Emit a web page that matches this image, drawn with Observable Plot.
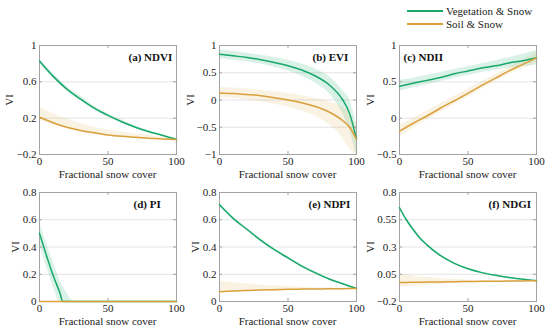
<!DOCTYPE html>
<html>
<head>
<meta charset="utf-8">
<script src="https://cdn.jsdelivr.net/npm/d3@7"></script>
<script src="https://cdn.jsdelivr.net/npm/@observablehq/plot@0.6"></script>
<style>
  html, body { margin: 0; padding: 0; background: #fff; overflow: hidden; }
  #chart { position: relative; width: 550px; height: 333px; font-family: "Liberation Serif", "Times New Roman", serif; color: #222; }
  #chart svg { position: absolute; overflow: visible; }
  .lab { position: absolute; font-size: 11px; white-space: nowrap; line-height: 1; }
  .ylab { position: absolute; font-size: 11px; line-height: 1; white-space: nowrap; transform: translate(-50%, -50%) rotate(-90deg); }
</style>
</head>
<body>
<div id="chart"></div>
<script>
// ---------- data ----------
const seriesNames = ["Vegetation & Snow", "Soil & Snow"];
const xTicks = [0, 50, 100];

const snow11 = [0, 10, 20, 30, 40, 50, 60, 70, 80, 90, 100];

// (a) NDVI
const ndviVeg    = [0.83, 0.66, 0.52, 0.41, 0.31, 0.23, 0.16, 0.10, 0.05, 0.01, -0.035];
const ndviVegLo  = [0.80, 0.64, 0.50, 0.39, 0.29, 0.21, 0.145, 0.085, 0.04, 0.0, -0.045];
const ndviVegHi  = [0.85, 0.69, 0.55, 0.44, 0.33, 0.25, 0.18, 0.115, 0.065, 0.02, -0.025];
const ndviSoil   = [0.21, 0.15, 0.10, 0.065, 0.04, 0.015, 0.0, -0.01, -0.02, -0.03, -0.035];
const ndviSoilLo = [0.18, 0.125, 0.08, 0.045, 0.02, 0.0, -0.012, -0.02, -0.03, -0.038, -0.045];
const ndviSoilHi = [0.32, 0.25, 0.19, 0.14, 0.10, 0.07, 0.045, 0.025, 0.01, -0.01, -0.025];
const ndviTicks  = [-0.2, 0.2, 0.6, 1];

// (b) EVI
const snowEvi   = [0, 10, 20, 30, 40, 50, 60, 70, 80, 90, 95, 100];
const eviVeg    = [0.84, 0.81, 0.78, 0.74, 0.69, 0.63, 0.55, 0.44, 0.28, 0.0, -0.25, -0.72];
const eviVegLo  = [0.76, 0.73, 0.70, 0.66, 0.60, 0.53, 0.44, 0.31, 0.12, -0.25, -0.55, -1];
const eviVegHi  = [0.92, 0.89, 0.86, 0.82, 0.78, 0.73, 0.66, 0.57, 0.43, 0.17, 0.0, -0.45];
const eviSoil   = [0.13, 0.12, 0.10, 0.08, 0.04, 0.0, -0.05, -0.12, -0.22, -0.38, -0.50, -0.72];
const eviSoilLo = [0.04, 0.03, 0.0, -0.03, -0.08, -0.13, -0.20, -0.30, -0.45, -0.70, -0.90, -1];
const eviSoilHi = [0.23, 0.22, 0.20, 0.18, 0.15, 0.12, 0.08, 0.03, -0.03, -0.13, -0.25, -0.50];
const eviTicks  = [-1, -0.5, 0, 0.5, 1];

// (c) NDII
const ndiiVeg    = [0.44, 0.48, 0.52, 0.56, 0.61, 0.65, 0.69, 0.72, 0.76, 0.79, 0.83];
const ndiiVegLo  = [0.37, 0.42, 0.46, 0.50, 0.55, 0.59, 0.63, 0.66, 0.69, 0.71, 0.73];
const ndiiVegHi  = [0.52, 0.55, 0.59, 0.63, 0.67, 0.71, 0.75, 0.79, 0.83, 0.88, 0.93];
const ndiiSoil   = [-0.18, -0.07, 0.03, 0.14, 0.24, 0.34, 0.45, 0.55, 0.65, 0.74, 0.83];
const ndiiSoilLo = [-0.26, -0.14, -0.03, 0.08, 0.19, 0.29, 0.40, 0.50, 0.60, 0.68, 0.76];
const ndiiSoilHi = [-0.10, 0.0, 0.10, 0.20, 0.30, 0.40, 0.50, 0.60, 0.70, 0.80, 0.90];
const ndiiTicks  = [-0.5, 0, 0.5, 1];

// (d) PI
const snowPi   = [0, 5, 10, 15, 17, 20, 25, 50, 100];
const piVeg    = [0.50, 0.34, 0.19, 0.06, 0, 0, 0, 0, 0];
const piVegLo  = [0.42, 0.26, 0.11, 0, 0, 0, 0, 0, 0];
const piVegHi  = [0.58, 0.43, 0.29, 0.15, 0.11, 0.06, 0, 0, 0];
const piSoil   = [0, 0, 0, 0, 0, 0, 0, 0, 0];
const piSoilLo = [0, 0, 0, 0, 0, 0, 0, 0, 0];
const piSoilHi = [0, 0, 0, 0, 0, 0, 0, 0, 0];
const piTicks  = [0, 0.2, 0.4, 0.6, 0.8];

// (e) NDPI
const ndpiVeg    = [0.71, 0.61, 0.53, 0.45, 0.38, 0.32, 0.26, 0.21, 0.165, 0.13, 0.095];
const ndpiVegLo  = [0.70, 0.60, 0.52, 0.44, 0.37, 0.31, 0.25, 0.20, 0.157, 0.124, 0.09];
const ndpiVegHi  = [0.72, 0.62, 0.54, 0.46, 0.39, 0.33, 0.27, 0.22, 0.173, 0.136, 0.10];
const ndpiSoil   = [0.072, 0.077, 0.081, 0.084, 0.087, 0.089, 0.091, 0.092, 0.093, 0.094, 0.095];
const ndpiSoilLo = [0.065, 0.07, 0.075, 0.079, 0.083, 0.086, 0.088, 0.09, 0.091, 0.093, 0.094];
const ndpiSoilHi = [0.15, 0.14, 0.13, 0.12, 0.115, 0.11, 0.105, 0.10, 0.099, 0.097, 0.096];
const ndpiTicks  = [0, 0.2, 0.4, 0.6, 0.8];

// (f) NDGI
const snowNdgi   = [0, 5, 10, 15, 20, 30, 40, 50, 60, 70, 80, 90, 100];
const ndgiVeg    = [0.66, 0.55, 0.46, 0.38, 0.32, 0.22, 0.15, 0.10, 0.065, 0.04, 0.02, 0.005, -0.01];
const ndgiVegLo  = [0.64, 0.535, 0.445, 0.367, 0.308, 0.21, 0.142, 0.094, 0.06, 0.036, 0.017, 0.003, -0.012];
const ndgiVegHi  = [0.68, 0.565, 0.475, 0.393, 0.332, 0.23, 0.158, 0.106, 0.07, 0.044, 0.023, 0.007, -0.008];
const ndgiSoil   = [-0.026, -0.025, -0.024, -0.023, -0.022, -0.02, -0.018, -0.017, -0.015, -0.014, -0.012, -0.011, -0.01];
const ndgiSoilLo = [-0.07, -0.065, -0.06, -0.055, -0.05, -0.042, -0.035, -0.03, -0.025, -0.02, -0.016, -0.013, -0.011];
const ndgiSoilHi = [0.057, 0.045, 0.035, 0.027, 0.02, 0.01, 0.002, -0.004, -0.008, -0.01, -0.01, -0.01, -0.009];
const ndgiTicks  = [-0.2, 0.05, 0.3, 0.55, 0.8];

// ---------- styling / layout ----------
const GREEN = "#17a86a";
const ORANGE = "#d9a03c";
const FRAME = "#a3a3a3";
const W = 180, H = 149, ML = 39, MR = 4, MT = 10, MB = 30;
const FW = W - ML - MR, FH = H - MT - MB;
const colLeft = [0, 180, 360];
const rowTop = [35, 182];

const panels = [
  {title: "(a) NDVI", tdx: 89, col: 0, row: 0, xs: snow11, veg: ndviVeg, vegLo: ndviVegLo, vegHi: ndviVegHi, soil: ndviSoil, soilLo: ndviSoilLo, soilHi: ndviSoilHi, ticks: ndviTicks, ylabOff: 30},
  {title: "(b) EVI", tdx: 93, col: 1, row: 0, xs: snowEvi, veg: eviVeg, vegLo: eviVegLo, vegHi: eviVegHi, soil: eviSoil, soilLo: eviSoilLo, soilHi: eviSoilHi, ticks: eviTicks, ylabOff: 29},
  {title: "(c) NDII", tdx: 4, col: 2, row: 0, xs: snow11, veg: ndiiVeg, vegLo: ndiiVegLo, vegHi: ndiiVegHi, soil: ndiiSoil, soilLo: ndiiSoilLo, soilHi: ndiiSoilHi, ticks: ndiiTicks, ylabOff: 29},
  {title: "(d) PI", tdx: 94, col: 0, row: 1, xs: snowPi, veg: piVeg, vegLo: piVegLo, vegHi: piVegHi, soil: piSoil, soilLo: piSoilLo, soilHi: piSoilHi, ticks: piTicks, ylabOff: 24},
  {title: "(e) NDPI", tdx: 89, col: 1, row: 1, xs: snow11, veg: ndpiVeg, vegLo: ndpiVegLo, vegHi: ndpiVegHi, soil: ndpiSoil, soilLo: ndpiSoilLo, soilHi: ndpiSoilHi, ticks: ndpiTicks, ylabOff: 24},
  {title: "(f) NDGI", tdx: 89, col: 2, row: 1, xs: snowNdgi, veg: ndgiVeg, vegLo: ndgiVegLo, vegHi: ndgiVegHi, soil: ndgiSoil, soilLo: ndgiSoilLo, soilHi: ndgiSoilHi, ticks: ndgiTicks, ylabOff: 29}
];

const fmt = d3.format("~g");
const chart = document.getElementById("chart");

for (const p of panels) {
  const vegRows = p.xs.map((x, i) => ({x, v: p.veg[i], lo: p.vegLo[i], hi: p.vegHi[i]}));
  const soilRows = p.xs.map((x, i) => ({x, v: p.soil[i], lo: p.soilLo[i], hi: p.soilHi[i]}));
  const yDomain = [p.ticks[0], p.ticks[p.ticks.length - 1]];
  const inner = p.ticks.slice(1, -1);
  const curve = "monotone-x";
  const svg = Plot.plot({
    width: W, height: H,
    marginLeft: ML, marginRight: MR, marginTop: MT, marginBottom: MB,
    style: {fontFamily: "'Liberation Serif', 'Times New Roman', serif", fontSize: "11px", color: "#222", background: "transparent"},
    x: {domain: [0, 100]},
    y: {domain: yDomain},
    marks: [
      Plot.gridY(inner, {stroke: "#e4e4e4", strokeOpacity: 1}),
      Plot.areaY(vegRows, {x: "x", y1: "lo", y2: "hi", fill: GREEN, fillOpacity: 0.16, curve, clip: true}),
      Plot.areaY(soilRows, {x: "x", y1: "lo", y2: "hi", fill: ORANGE, fillOpacity: 0.14, curve, clip: true}),
      Plot.frame({stroke: FRAME}),
      Plot.tickX(xTicks, {x: d => d, stroke: FRAME, insetTop: FH - 3}),
      Plot.tickX(xTicks, {x: d => d, stroke: FRAME, insetBottom: FH - 3}),
      Plot.tickY(p.ticks, {y: d => d, stroke: FRAME, insetRight: FW - 3}),
      Plot.tickY(p.ticks, {y: d => d, stroke: FRAME, insetLeft: FW - 3}),
      Plot.line(vegRows, {x: "x", y: "v", stroke: GREEN, strokeWidth: 1.5, curve}),
      Plot.line(soilRows, {x: "x", y: "v", stroke: ORANGE, strokeWidth: 1.5, curve}),
      Plot.axisX(xTicks, {tickSize: 0, tickPadding: 3, label: null, tickFormat: fmt, fontSize: 11}),
      Plot.axisY(p.ticks, {tickSize: 0, tickPadding: 3, label: null, tickFormat: fmt, fontSize: 11}),
      Plot.text([p.title], {text: d => d, frameAnchor: "top-left", dx: p.tdx, dy: 8, textAnchor: "start", fontWeight: "bold", fontSize: 11, fill: "#111"})
    ]
  });
  const left = colLeft[p.col], top = rowTop[p.row];
  svg.style.left = left + "px";
  svg.style.top = top + "px";
  chart.appendChild(svg);

  const xl = document.createElement("div");
  xl.className = "lab";
  xl.textContent = "Fractional snow cover";
  xl.style.left = (left + ML + FW / 2) + "px";
  xl.style.top = (top + MT + FH + 19.5) + "px";
  xl.style.transform = "translate(-50%, -50%)";
  chart.appendChild(xl);

  const yl = document.createElement("div");
  yl.className = "ylab";
  yl.textContent = "VI";
  yl.style.left = (left + ML - p.ylabOff) + "px";
  yl.style.top = (top + MT + FH / 2) + "px";
  chart.appendChild(yl);
}

// legend
const legendColors = [GREEN, ORANGE];
seriesNames.forEach((name, i) => {
  const y = 11 + i * 13;
  const line = document.createElement("div");
  line.style.cssText = `position:absolute;left:407px;top:${y - 0.75}px;width:36px;height:1.5px;background:${legendColors[i]};`;
  chart.appendChild(line);
  const t = document.createElement("div");
  t.className = "lab";
  t.textContent = name;
  t.style.left = "446px";
  t.style.top = y + "px";
  t.style.transform = "translateY(-50%)";
  chart.appendChild(t);
});
</script>
</body>
</html>
